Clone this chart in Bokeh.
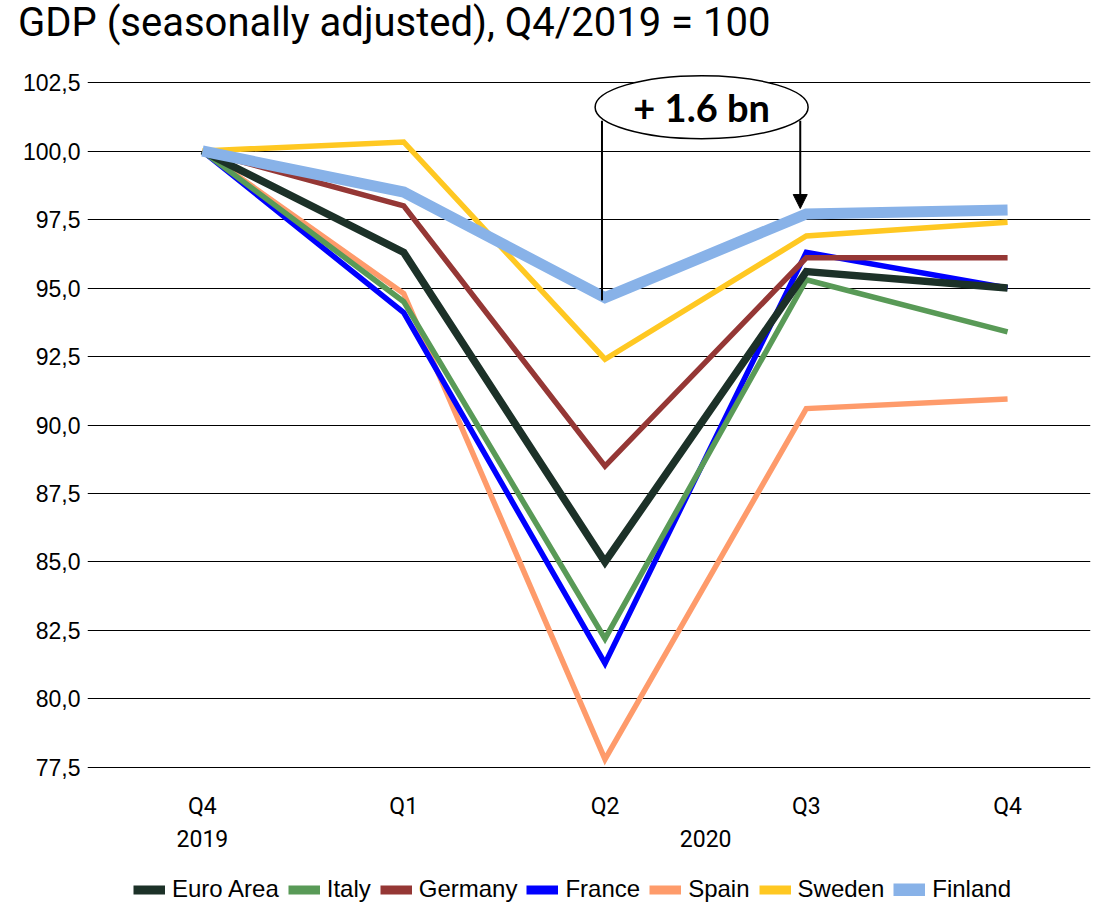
from bokeh.plotting import figure
from bokeh.layouts import column
from bokeh.models import (Legend, LegendItem, LinearAxis, FixedTicker, Range1d,
                          Arrow, NormalHead, Div)
from bokeh.embed import file_html
from bokeh.resources import INLINE
from bokeh.core.properties import value

# ---------------- data ----------------
title_text = "GDP (seasonally adjusted), Q4/2019 = 100"
quarters = ["Q4", "Q1", "Q2", "Q3", "Q4"]
year_labels = ["2019", "2020"]
year_positions = [0, 2.5]
x_idx = [0, 1, 2, 3, 4]

euro_area = [100.0, 96.3, 85.0, 95.6, 95.0]
italy = [100.0, 94.5, 82.2, 95.3, 93.4]
germany = [100.0, 98.0, 88.5, 96.1, 96.1]
france = [100.0, 94.1, 81.3, 96.3, 95.0]
spain = [100.0, 94.8, 77.8, 90.6, 90.95]
sweden = [100.0, 100.33, 92.4, 96.9, 97.4]
finland = [100.0, 98.5, 94.65, 97.7, 97.85]

y_ticks = [77.5, 80.0, 82.5, 85.0, 87.5, 90.0, 92.5, 95.0, 97.5, 100.0, 102.5]
annotation_text = "+ 1.6 bn"

TITLE_FONT = "Roboto"
LEG_FONT = "Liberation Sans"

# title as a text block above the chart
title_div = Div(text=title_text, width=1000, height=60,
                styles={"font-family": "Roboto", "font-size": "40px",
                        "line-height": "40px", "color": "black",
                        "padding-top": "3px", "padding-left": "18px",
                        "white-space": "nowrap", "margin": "0"})

p = figure(width=1102, height=810, title=None,
           x_range=Range1d(-0.571, 4.412),
           y_range=Range1d(77.135, 102.865),
           output_backend="svg", toolbar_location=None,
           min_border_left=87, min_border_right=12, min_border_top=12,
           min_border_bottom=93)

p.outline_line_color = None
p.background_fill_color = "white"

# axes
p.xaxis.ticker = FixedTicker(ticks=x_idx)
p.xaxis.major_label_overrides = {i: q for i, q in zip(x_idx, quarters)}
p.xaxis.axis_line_color = None
p.xaxis.major_tick_line_color = None
p.xaxis.major_tick_out = 0
p.xaxis.minor_tick_line_color = None
p.xaxis.major_label_text_font = TITLE_FONT
p.xaxis.major_label_text_font_size = "23px"
p.xaxis.major_label_text_color = "black"
p.xaxis.major_label_standoff = 15

year_axis = LinearAxis(ticker=FixedTicker(ticks=year_positions),
                       major_label_overrides={pos: y for pos, y in zip(year_positions, year_labels)},
                       axis_line_color=None, major_tick_line_color=None,
                       major_tick_out=0,
                       minor_tick_line_color=None,
                       major_label_text_font=TITLE_FONT,
                       major_label_text_font_size="23px",
                       major_label_text_color="black",
                       major_label_standoff=7)
p.add_layout(year_axis, "below")

p.yaxis.ticker = FixedTicker(ticks=y_ticks)
p.yaxis.major_label_overrides = {t: f"{t:.1f}".replace(".", ",") for t in y_ticks}
p.yaxis.axis_line_color = None
p.yaxis.major_tick_line_color = None
p.yaxis.major_tick_out = 0
p.yaxis.minor_tick_line_color = None
p.yaxis.major_label_text_font = "Liberation Sans"
p.yaxis.major_label_text_font_size = "23px"
p.yaxis.major_label_text_color = "black"
p.yaxis.major_label_standoff = 7

p.xgrid.visible = False
p.ygrid.ticker = FixedTicker(ticks=y_ticks)
p.ygrid.grid_line_color = "black"
p.ygrid.grid_line_width = 1

# series
series = {
    "Euro Area": (euro_area, "#1c3128", 7.5),
    "Italy": (italy, "#599a57", 5.5),
    "Germany": (germany, "#953735", 5.5),
    "France": (france, "#0000ff", 5.5),
    "Spain": (spain, "#fe9b6b", 5.5),
    "Sweden": (sweden, "#ffc822", 5.5),
    "Finland": (finland, "#88b2e8", 11),
}
draw_order = ["Spain", "France", "Italy", "Germany", "Euro Area", "Sweden", "Finland"]
for name in draw_order:
    vals, col, lw = series[name]
    p.line(x_idx, vals, line_color=col, line_width=lw,
           line_join="miter", line_cap="butt")

# annotation: bracket from Finland Q2 to Finland Q3
x_left = x_idx[2] - 0.015
x_right = x_idx[3] - 0.03
y_top = 101.1
ell_x = (x_idx[2] + x_idx[3]) / 2 - 0.02
ell_y = 101.6
p.ellipse(x=[ell_x], y=[ell_y], width=213, height=63, width_units="screen",
          height_units="screen", fill_color="white", line_color="black",
          line_width=1.5)
p.segment(x0=[x_left], y0=[y_top], x1=[x_left], y1=[finland[2] - 0.1],
          line_color="black", line_width=2)
p.add_layout(Arrow(end=NormalHead(size=14, fill_color="black", line_color="black"),
                   x_start=x_right, y_start=y_top, x_end=x_right,
                   y_end=finland[3] + 0.2, line_color="black", line_width=2))
p.text(x=[ell_x], y=[ell_y], text=[annotation_text], text_align="center",
       text_baseline="middle", text_font=value("Lato"), text_font_style="bold",
       text_font_size="38px", text_color="black")

# legend strip below the chart (swatch renderers lie outside its visible range)
lf = figure(width=1102, height=33, x_range=Range1d(0, 1), y_range=Range1d(0, 1),
            output_backend="svg", toolbar_location=None,
            x_axis_type=None, y_axis_type=None,
            min_border_left=0, min_border_right=0, min_border_top=0,
            min_border_bottom=0)
lf.outline_line_color = None
lf.xgrid.visible = False
lf.ygrid.visible = False

legend_order = ["Euro Area", "Italy", "Germany", "France", "Spain", "Sweden", "Finland"]
hidden_x = [-5, -4]
hidden_y = [-5, -5]
items = []
for name in legend_order:
    col = series[name][1]
    sw = 13 if name == "Finland" else 9
    r = lf.line(x=hidden_x, y=hidden_y, line_color=col, line_width=sw, line_cap="butt")
    items.append(LegendItem(label=name, renderers=[r]))
legend = Legend(items=items, orientation="horizontal", location=(46, 0),
                border_line_alpha=0, background_fill_alpha=0,
                glyph_width=32, glyph_height=13, label_text_font=LEG_FONT,
                label_text_font_size="24px", label_text_color="black",
                label_text_baseline="middle",
                spacing=9, label_standoff=7, padding=0, margin=0)
lf.add_layout(legend, "center")

layout = column(title_div, p, lf, spacing=0)
open("out.html", "w").write(file_html(layout, INLINE))
